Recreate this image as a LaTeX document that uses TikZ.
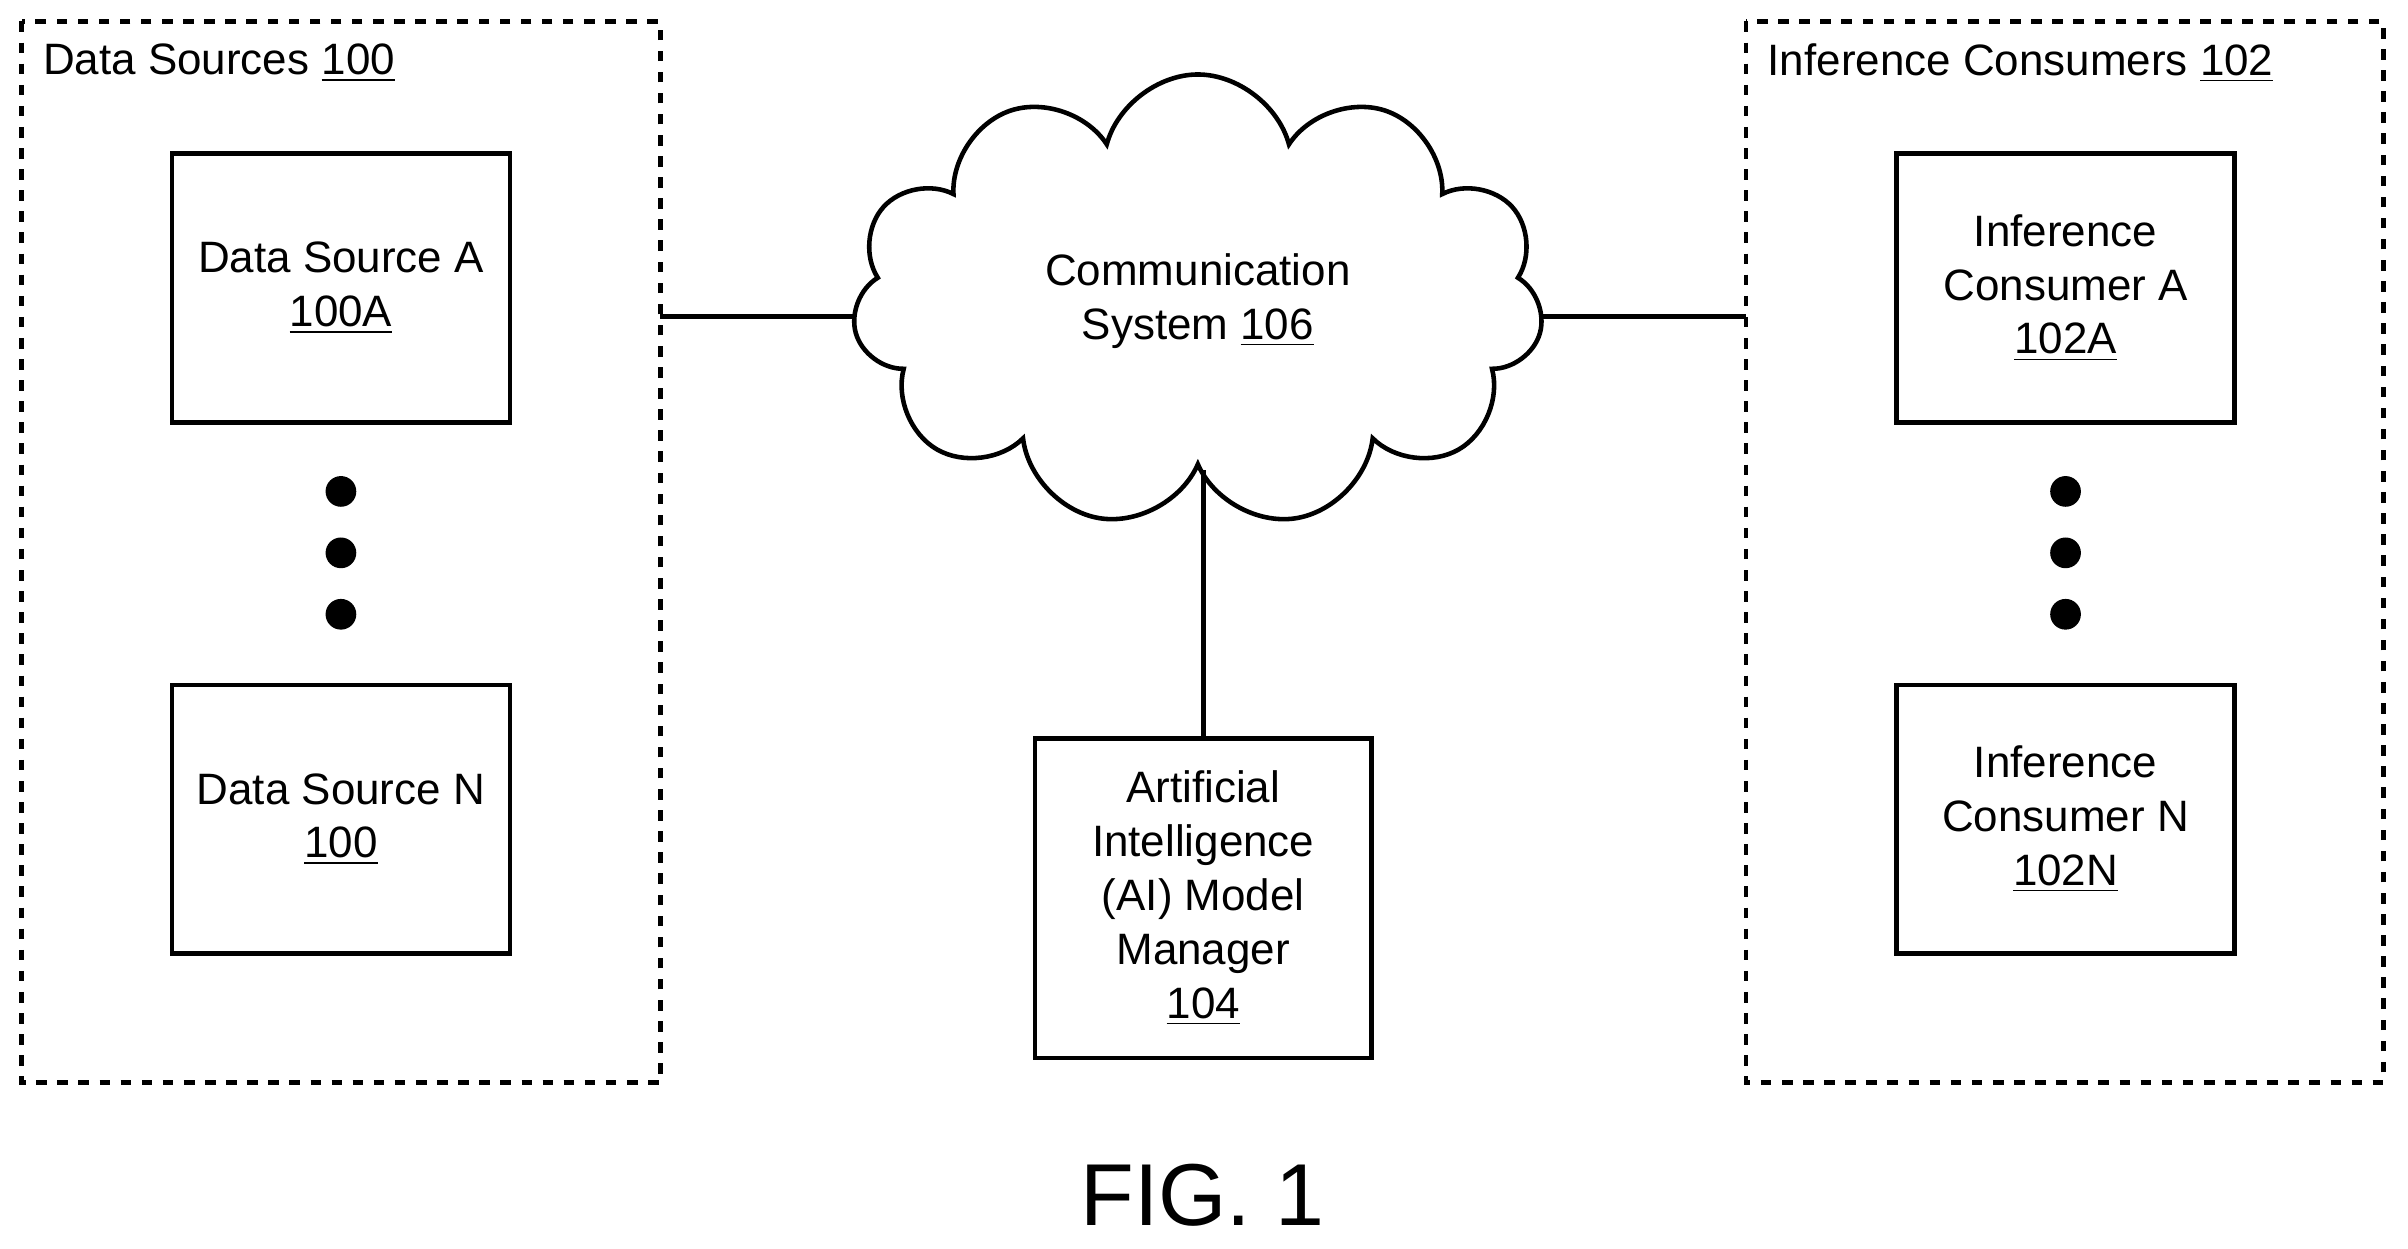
\documentclass[tikz,border=0pt]{standalone}
\usepackage{fontspec}
\setmainfont{Liberation Sans}
\usetikzlibrary{shapes.symbols,positioning}
\begin{document}
\begin{tikzpicture}[x=0.015357cm,y=-0.015357cm]
  \tikzset{group/.style={draw,dashed,line width=1.3pt},
    unit/.style={draw,line width=1.3pt,minimum width=220*0.015357cm,
      minimum height=175*0.015357cm,align=center,
      font=\fontsize{12.5pt}{15.3pt}\selectfont},
    dot/.style={circle,fill=black,inner sep=0pt,minimum size=20*0.015357cm},
    link/.style={line width=1.3pt}
  }
  \useasboundingbox (0,0) rectangle (1568,813);
  % groups
  \draw [group] (14,14) rectangle (430,705);
  \draw [group] (1137,14) rectangle (1552,705);
  \coordinate (dsE) at (430,206);
  \coordinate (icW) at (1137,206);
  \node [anchor=west,font=\fontsize{12.5pt}{15.3pt}\selectfont] (dsT) at (20,41) {Data Sources \underline{100}};
  \node [anchor=west,font=\fontsize{12.5pt}{15.3pt}\selectfont] (icT) at (1143,41) {Inference Consumers \underline{102}};

  \node [unit] (dsA) at (222,187.5) {Data Source A\\\underline{100A}};
  \node [unit] (dsN) at (222,533.5) {Data Source N\\\underline{100}};
  \node [unit] (icA) at (1345,187.5) {Inference\\Consumer A\\\underline{102A}};
  \node [unit] (icN) at (1345,533.5) {Inference\\Consumer N\\\underline{102N}};
  \foreach \y in {320,360,400} {
    \node [dot] at (222,\y) {};
    \node [dot] at (1345,\y) {};
  }

  \node [cloud,draw,line width=1.3pt,cloud puffs=11,cloud ignores aspect,
    minimum width=450*0.015357cm,minimum height=295*0.015357cm,
    align=center,font=\fontsize{12.5pt}{15.3pt}\selectfont] (cs) at (780,196)
    {Communication\\System \underline{106}};
  \node [unit,minimum width=219*0.015357cm,minimum height=208*0.015357cm] (ai) at (783.5,585)
    {Artificial\\Intelligence\\(AI) Model\\Manager\\\underline{104}};

  \draw [link] (dsE) -- (dsE -| cs.west);
  \draw [link] (icW -| cs.east) -- (icW);
  \draw [link] (ai.north) -- (ai.north |- cs.south);

  \node [font=\fontsize{25pt}{30pt}\selectfont] (fig) at (783,778) {FIG. 1};
\end{tikzpicture}
\end{document}
